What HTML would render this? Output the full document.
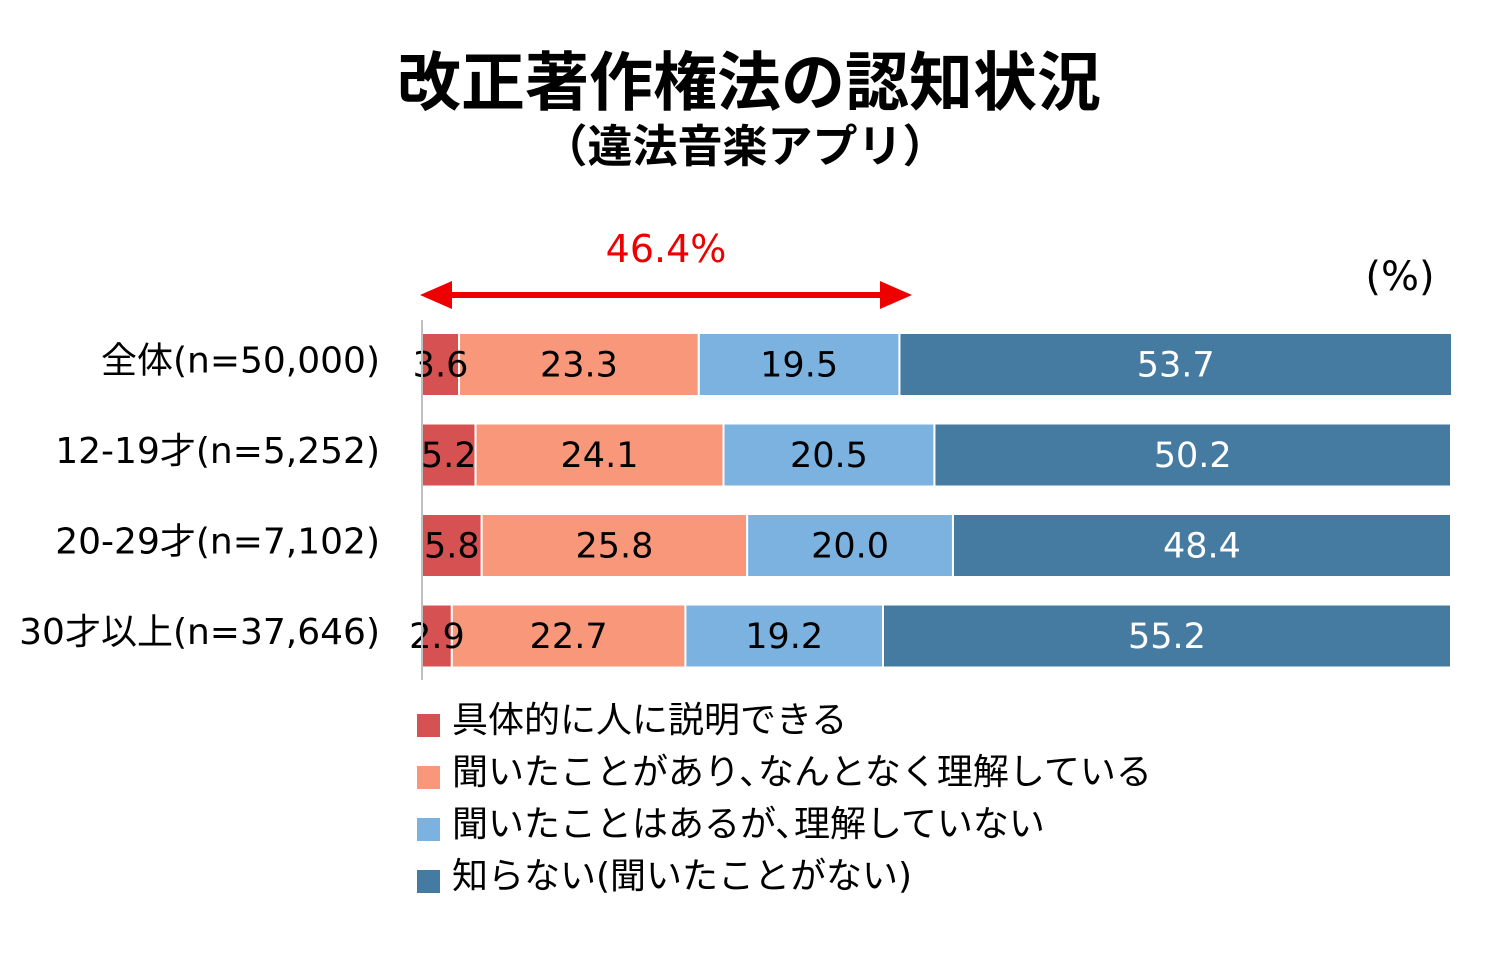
<!DOCTYPE html>
<html><head><meta charset="utf-8"><style>
body{margin:0;background:#fff;}
svg text{font-family:"DejaVu Sans","Noto Sans CJK JP",sans-serif;}
</style></head><body>
<svg width="1489" height="962" viewBox="0 0 1489 962" id="chart">
<text x="749" y="105" text-anchor="middle" font-size="64" font-weight="bold" fill="#000" style="font-family:'Noto Sans CJK JP',sans-serif">改正著作権法の認知状況</text>
<text x="745" y="162" text-anchor="middle" font-size="45" font-weight="bold" fill="#000" style="font-family:'Noto Sans CJK JP',sans-serif">（違法音楽アプリ）</text>
<text x="666" y="262" text-anchor="middle" font-size="38" fill="#ee0000">46.4%</text>
<g>
<line x1="440" y1="295" x2="892" y2="295" stroke="#ee0000" stroke-width="6"/>
<polygon points="420,295 452,281 452,309" fill="#ee0000"/>
<polygon points="912,295 880,281 880,309" fill="#ee0000"/>
</g>
<text x="1400" y="290" text-anchor="middle" font-size="40" fill="#000">(%)</text>
<g id="bars"></g>
<g id="labels"></g>
<line x1="422" y1="320" x2="422" y2="680" stroke="#bfbfbf" stroke-width="2"/>
<g id="legend"></g>
</svg>
<script>
const categories=["全体(n=50,000)","12-19才(n=5,252)","20-29才(n=7,102)","30才以上(n=37,646)"];
const seriesNames=["具体的に人に説明できる","聞いたことがあり､なんとなく理解している","聞いたことはあるが､理解していない","知らない(聞いたことがない)"];
const s1=[3.6,5.2,5.8,2.9];
const s2=[23.3,24.1,25.8,22.7];
const s3=[19.5,20.5,20.0,19.2];
const s4=[53.7,50.2,48.4,55.2];
const series=[s1,s2,s3,s4];
const colors=["#d65151","#f9977a","#7bb2e0","#467ba1"];
const textColors=["#000","#000","#000","#fff"];
const NS="http://www.w3.org/2000/svg";
const x0=422,xw=1029,y0=333,pitch=90.5,bh=63;
function xs(v){return x0+v/100*xw;}
function ys(i){return y0+i*pitch;}
const bars=document.getElementById('bars');
const labels=document.getElementById('labels');
categories.forEach((c,i)=>{
  const t=document.createElementNS(NS,'text');
  
  
  t.setAttribute('x',380);t.setAttribute('y',ys(i)+bh/2+8);
  t.setAttribute('text-anchor','end');t.setAttribute('font-size','36');
  t.textContent=c;labels.appendChild(t);
  let cum=0;
  series.forEach((s,k)=>{
    const v=s[i];
    const r=document.createElementNS(NS,'rect');
    
    
    r.setAttribute('x',xs(cum));r.setAttribute('y',ys(i));
    r.setAttribute('width',xs(cum+v)-xs(cum));r.setAttribute('height',bh);
    r.setAttribute('fill',colors[k]);r.setAttribute('stroke','#fff');r.setAttribute('stroke-width','2');
    bars.appendChild(r);
    const l=document.createElementNS(NS,'text');
    
    
    l.setAttribute('x',(xs(cum)+xs(cum+v))/2);l.setAttribute('y',ys(i)+bh/2+12);
    l.setAttribute('text-anchor','middle');l.setAttribute('font-size','35');
    l.setAttribute('fill',textColors[k]);
    l.textContent=v.toFixed(1);labels.appendChild(l);
    cum+=v;
  });
});
const lg=document.getElementById('legend');
seriesNames.forEach((n,k)=>{
  const y=718+k*52;
  const r=document.createElementNS(NS,'rect');
  
  
  r.setAttribute('x',417);r.setAttribute('y',y-4);r.setAttribute('width',23);r.setAttribute('height',23);
  r.setAttribute('fill',colors[k]);lg.appendChild(r);
  const t=document.createElementNS(NS,'text');
  
  
  t.setAttribute('x',452);t.setAttribute('y',y+14);t.setAttribute('font-size','36');
  t.textContent=n;lg.appendChild(t);
});
</script>
</body></html>
